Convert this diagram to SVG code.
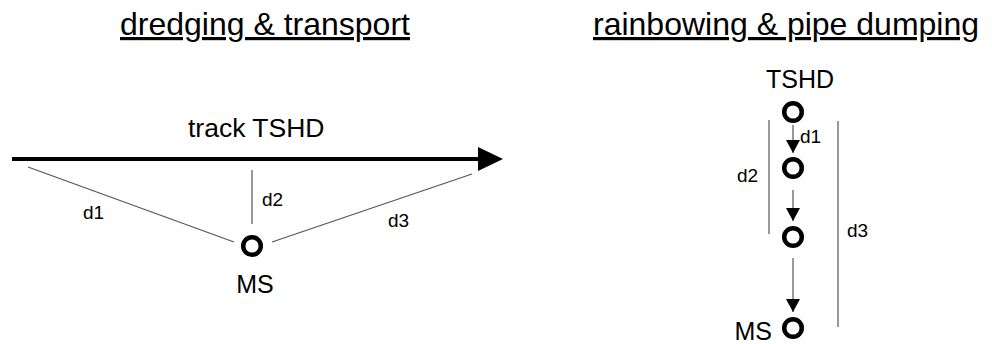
<svg xmlns="http://www.w3.org/2000/svg" width="992" height="344" viewBox="0 0 992 344">
  <style>
    .t { font-family: "Liberation Sans", Arial, sans-serif; fill: #000; }
    .title { font-size: 32px; text-decoration: underline; }
    .lbl { font-size: 19px; }
    .big { font-size: 25px; }
    .thin { stroke: #555; stroke-width: 1.2; fill: none; }
    .node { fill: #fff; stroke: #000; stroke-width: 4.5; }
  </style>
  <defs>
    <marker id="ah" markerUnits="userSpaceOnUse" markerWidth="15" markerHeight="14" refX="13" refY="7" orient="auto">
      <path d="M0,0 L13,7 L0,14 z" fill="#000"/>
    </marker>
  </defs>
  <rect width="992" height="344" fill="#fff"/>

  <text class="t title" x="120" y="35">dredging &amp; transport</text>
  <text class="t title" x="593" y="35">rainbowing &amp; pipe dumping</text>

  <g id="connectors">
    <line x1="12" y1="159" x2="482" y2="159" stroke="#000" stroke-width="4"/>
    <polygon points="478,147 503,159 478,171" fill="#000"/>
    <line class="thin" x1="28" y1="167" x2="234" y2="242"/>
    <line class="thin" x1="252" y1="170" x2="252" y2="224"/>
    <line class="thin" x1="272" y1="242" x2="472" y2="174"/>
    <line class="thin" x1="793" y1="125" x2="793" y2="153" marker-end="url(#ah)"/>
    <line class="thin" x1="793" y1="190" x2="793" y2="221" marker-end="url(#ah)"/>
    <line class="thin" x1="793" y1="258" x2="793" y2="312" marker-end="url(#ah)"/>
    <line class="thin" x1="769" y1="120" x2="769" y2="234"/>
    <line class="thin" x1="838" y1="121" x2="838" y2="327"/>
  </g>

  <g id="track-label">
    <text class="t" x="188" y="137" font-size="26.5">track TSHD</text>
  </g>
  <g id="left-labels">
    <text class="t lbl" x="83" y="219">d1</text>
    <text class="t lbl" x="262" y="206">d2</text>
    <text class="t lbl" x="388" y="227">d3</text>
  </g>
  <g id="ms-left">
    <circle class="node" cx="252" cy="246" r="8.8"/>
    <text class="t big" x="255" y="293" text-anchor="middle">MS</text>
  </g>

  <g id="tshd-right">
    <text class="t big" x="800" y="88" text-anchor="middle">TSHD</text>
    <circle class="node" cx="793" cy="112" r="8.8"/>
  </g>
  <g id="node2-right">
    <circle class="node" cx="793" cy="168" r="8.8"/>
  </g>
  <g id="node3-right">
    <circle class="node" cx="793" cy="237" r="8.8"/>
  </g>
  <g id="ms-right">
    <circle class="node" cx="793" cy="328" r="8.8"/>
    <text class="t big" x="772" y="340" text-anchor="end">MS</text>
  </g>
  <g id="right-labels">
    <text class="t lbl" x="800" y="143">d1</text>
    <text class="t lbl" x="737" y="182">d2</text>
    <text class="t lbl" x="847" y="237">d3</text>
  </g>
</svg>
